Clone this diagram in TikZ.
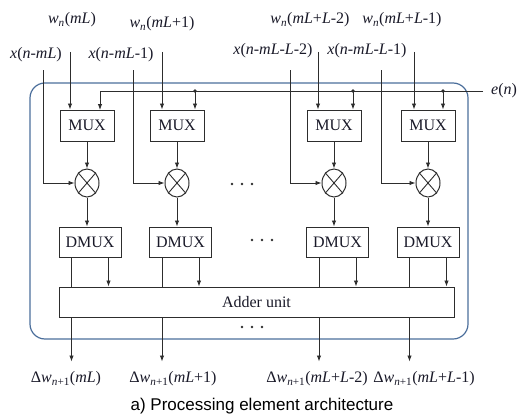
\documentclass[tikz,border=0pt]{standalone}
\usepackage{fontspec}
\setmainfont{Liberation Serif}
\newfontfamily\capfont{Liberation Sans}
\usetikzlibrary{shapes.geometric,arrows.meta,calc}
\definecolor{lc}{RGB}{45,45,45}
\definecolor{txt}{RGB}{25,25,40}
\definecolor{peblue}{RGB}{75,110,155}
\begin{document}
\begin{tikzpicture}[x=1pt,y=-1pt,
  every node/.style={font=\fontsize{16}{19}\selectfont, text=txt},
  ln/.style={draw=lc, line width=0.9pt},
  arr/.style={ln, -{Latex[length=6pt,width=4.5pt]}},
  muxbox/.style={draw=lc, line width=1pt, minimum width=54pt, minimum height=31pt, inner sep=0pt},
  dmuxbox/.style={muxbox, minimum width=62pt, minimum height=30pt},
  mult/.style={draw=lc, line width=1pt, ellipse, minimum width=24pt, minimum height=28pt, inner sep=0pt},
  pe/.style={draw=peblue, line width=1.2pt, rounded corners=15pt},
  lbl/.style={inner sep=1pt},
  dot/.style={fill=lc},
]
\useasboundingbox (0,0) rectangle (519,420);
% processing element frame
\draw[pe] (30,83) rectangle (468,339);

% MUX boxes
\node[muxbox] (mux1) at (87,125.5) {MUX};
\node[muxbox] (mux2) at (177,125.5) {MUX};
\node[muxbox] (mux3) at (334,125.5) {MUX};
\node[muxbox] (mux4) at (428,125.5) {MUX};

% multipliers
\foreach \i/\x in {1/87,2/177,3/334,4/428}{
  \node[mult] (mul\i) at (\x,183) {};
  \draw[lc, line width=0.9pt] (mul\i.north east) -- (mul\i.south west)
                              (mul\i.north west) -- (mul\i.south east);
}

% DMUX boxes
\node[dmuxbox] (dm1) at (90,242) {DMUX};
\node[dmuxbox] (dm2) at (180.5,242) {DMUX};
\node[dmuxbox] (dm3) at (337.5,242) {DMUX};
\node[dmuxbox] (dm4) at (428,242) {DMUX};

% adder
\node[draw=lc, line width=1pt, minimum width=395pt, minimum height=30pt, inner sep=0pt] (add) at (256.5,302) {Adder unit};

% top labels
\node[lbl] (wl1) at (72,20) {\textit{w}\textsubscript{\textit{n}}(\textit{mL})};
\node[lbl] (wl2) at (162,24) {\textit{w}\textsubscript{\textit{n}}(\textit{mL}+1)};
\node[lbl] (wl3) at (310,20) {\textit{w}\textsubscript{\textit{n}}(\textit{mL}+\textit{L}-2)};
\node[lbl] (wl4) at (402,20) {\textit{w}\textsubscript{\textit{n}}(\textit{mL}+\textit{L}-1)};
\node[lbl] (xl1) at (36,55) {\textit{x}(\textit{n}-\textit{mL})};
\node[lbl] (xl2) at (121,55) {\textit{x}(\textit{n}-\textit{mL}-1)};
\node[lbl] (xl3) at (273,51) {\textit{x}(\textit{n}-\textit{mL}-\textit{L}-2)};
\node[lbl] (xl4) at (367,51) {\textit{x}(\textit{n}-\textit{mL}-\textit{L}-1)};
\node[lbl, inner xsep=8pt, anchor=west] (en) at (483,91) {\textit{e}(\textit{n})};

% w inputs
\foreach \i/\x in {1/70,2/162,3/318,4/414}{
  \coordinate (ws\i) at (\x,52);
  \draw[arr] (ws\i) -- (ws\i |- mux\i.north);
}
% x inputs
\foreach \i/\x in {1/43,2/133,3/290,4/381}{
  \coordinate (xs\i) at (\x,70);
  \draw[arr] (xs\i) |- (mul\i.west);
}
% e(n) bus
\draw[arr] (en.west) -| (100,110);
\foreach \i/\x in {2/195,3/353,4/443}{
  \coordinate (ej\i) at (\x,91);
  \fill[dot] (ej\i) circle (1.8pt);
  \draw[arr] (ej\i) -- (ej\i |- mux\i.north);
}

% MUX -> multiplier -> DMUX
\foreach \i in {1,2,3,4}{
  \draw[arr] (mux\i.south) -- (mul\i.north);
  \draw[arr] (mul\i.south) -- (mul\i.south |- dm\i.north);
  \coordinate (dl\i) at ($(dm\i.south)+(-18.5,0)$);
  \coordinate (dr\i) at ($(dm\i.south)+(18.5,0)$);
  \draw[ln] (dl\i) -- (dl\i |- add.north);
  \draw[arr] (dr\i) -- (dr\i |- add.north);
  \coordinate (oe\i) at ($(dl\i |- add.south)+(0,44)$);
  \draw[arr] (dl\i |- add.south) -- (oe\i);
}

% ellipsis dots
\foreach \x in {232,242,252}{\fill[dot] (\x,184) circle (1.3pt);}
\foreach \x in {252,262,272}{\fill[dot] (\x,240) circle (1.3pt);}
\foreach \x in {242,252,262}{\fill[dot] (\x,327) circle (1.3pt);}

% output labels
\node[lbl] (ol1) at (66,379) {Δ\textit{w}\textsubscript{\textit{n}+1}(\textit{mL})};
\node[lbl] (ol2) at (173,379) {Δ\textit{w}\textsubscript{\textit{n}+1}(\textit{mL}+1)};
\node[lbl] (ol3) at (317,379) {Δ\textit{w}\textsubscript{\textit{n}+1}(\textit{mL}+\textit{L}-2)};
\node[lbl] (ol4) at (424,379) {Δ\textit{w}\textsubscript{\textit{n}+1}(\textit{mL}+\textit{L}-1)};

% caption
\node[font=\capfont\fontsize{17}{20}\selectfont, text=black] (cap) at (262,406) {a) Processing element architecture};
\end{tikzpicture}
\end{document}
